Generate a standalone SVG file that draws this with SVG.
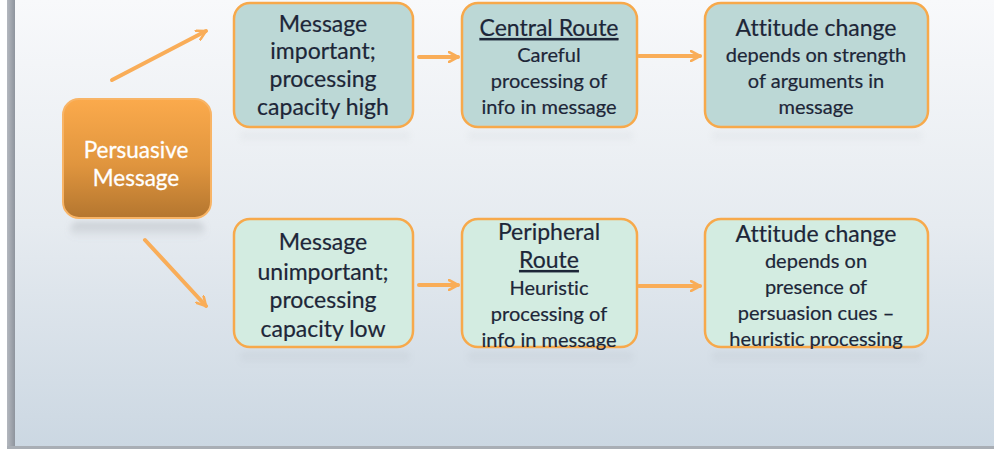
<svg xmlns="http://www.w3.org/2000/svg" width="994" height="449" viewBox="0 0 994 449">
<defs>
<linearGradient id="bg" x1="0" y1="0" x2="0" y2="1">
<stop offset="0" stop-color="#f8f9fb"/>
<stop offset="0.5" stop-color="#e6ebf0"/>
<stop offset="1" stop-color="#cbd7e2"/>
</linearGradient>
<linearGradient id="org" x1="0" y1="0" x2="0" y2="1">
<stop offset="0" stop-color="#fbaa4c"/>
<stop offset="0.55" stop-color="#e0953e"/>
<stop offset="1" stop-color="#b4762f"/>
</linearGradient>
<linearGradient id="bar" x1="0" y1="0" x2="1" y2="0">
<stop offset="0" stop-color="#b4b8bf"/>
<stop offset="1" stop-color="#8e949d"/>
</linearGradient>
<linearGradient id="refl" x1="0" y1="0" x2="0" y2="1">
<stop offset="0" stop-color="#8a8f96" stop-opacity="0.35"/>
<stop offset="1" stop-color="#8a8f96" stop-opacity="0"/>
</linearGradient>
<marker id="ah" viewBox="0 0 12 12" refX="10" refY="6" markerWidth="12" markerHeight="12" markerUnits="userSpaceOnUse" orient="auto">
<path d="M1,1 L10,6 L1,11" fill="none" stroke="#f9ad58" stroke-width="2.6" stroke-linecap="round" stroke-linejoin="round"/>
</marker>
<filter id="blur" x="-20%" y="-50%" width="140%" height="200%"><feGaussianBlur stdDeviation="3"/></filter>
</defs>
<style>
.box{stroke:#f7a94b;stroke-width:2.5}
.top{fill:#bcd8d6}
.bot{fill:#d3ece1}
.t{font-family:Lato,"Open Sans","Liberation Sans",sans-serif;fill:#1d2638;text-anchor:middle;stroke:#1d2638;stroke-width:0.2;font-variant-ligatures:none}
.big{font-size:23px}
.sm{font-size:20px}
.u{text-decoration:underline}
.conn{fill:none;stroke:#f9ad58;stroke-width:4;stroke-linecap:round}
</style>
<rect x="0" y="0" width="994" height="449" fill="url(#bg)"/>
<rect x="0" y="0" width="7" height="449" fill="#ffffff"/>
<rect x="7" y="0" width="8" height="447" fill="url(#bar)"/>
<rect x="7" y="446" width="987" height="3" fill="#a9aeb5"/>

<rect x="70" y="222" width="135" height="16" rx="8" fill="url(#refl)" filter="url(#blur)"/>
<rect x="240" y="132" width="170" height="12" fill="url(#refl)" opacity="0.3" filter="url(#blur)"/>
<rect x="468" y="132" width="165" height="12" fill="url(#refl)" opacity="0.3" filter="url(#blur)"/>
<rect x="712" y="132" width="210" height="12" fill="url(#refl)" opacity="0.3" filter="url(#blur)"/>
<rect x="240" y="352" width="170" height="14" fill="url(#refl)" opacity="0.35" filter="url(#blur)"/>
<rect x="468" y="352" width="165" height="14" fill="url(#refl)" opacity="0.35" filter="url(#blur)"/>
<rect x="712" y="352" width="210" height="14" fill="url(#refl)" opacity="0.35" filter="url(#blur)"/>

<g id="connectors">
<line class="conn" x1="112" y1="80" x2="206" y2="31" marker-end="url(#ah)"/>
<line class="conn" x1="145" y1="240" x2="206" y2="306" marker-end="url(#ah)"/>
<line class="conn" x1="419" y1="57" x2="458" y2="57" marker-end="url(#ah)"/>
<line class="conn" x1="639" y1="56" x2="700" y2="56" marker-end="url(#ah)"/>
<line class="conn" x1="419" y1="285" x2="458" y2="285" marker-end="url(#ah)"/>
<line class="conn" x1="639" y1="286" x2="700" y2="286" marker-end="url(#ah)"/>
</g>

<g id="persuasive">
<rect x="63" y="99" width="148" height="119" rx="16" fill="url(#org)" stroke="#f8b466" stroke-width="2"/>
<text class="t" x="136" y="158" font-size="22.5" style="fill:#ffffff;stroke:#ffffff;stroke-width:0.3">Persuasive</text>
<text class="t" x="136" y="186" font-size="22.5" style="fill:#ffffff;stroke:#ffffff;stroke-width:0.3">Message</text>
</g>

<g id="n1">
<rect class="box top" x="234" y="3" width="179" height="124" rx="16"/>
<text class="t big" x="323" y="32">Message</text>
<text class="t big" x="323" y="59">important;</text>
<text class="t big" x="323" y="87">processing</text>
<text class="t big" x="323" y="115">capacity high</text>
</g>

<g id="n2">
<rect class="box top" x="462" y="3" width="175" height="124" rx="16"/>
<text class="t big u" x="549" y="36">Central Route</text>
<text class="t sm" x="549" y="62">Careful</text>
<text class="t sm" x="549" y="88">processing of</text>
<text class="t sm" x="549" y="114">info in message</text>
</g>

<g id="n3">
<rect class="box top" x="705" y="3" width="223" height="124" rx="16"/>
<text class="t big" x="816" y="36">Attitude change</text>
<text class="t sm" x="816" y="62">depends on strength</text>
<text class="t sm" x="816" y="88">of arguments in</text>
<text class="t sm" x="816" y="114">message</text>
</g>

<g id="n4">
<rect class="box bot" x="234" y="219" width="179" height="128" rx="16"/>
<text class="t big" x="323" y="250">Message</text>
<text class="t big" x="323" y="280">unimportant;</text>
<text class="t big" x="323" y="308">processing</text>
<text class="t big" x="323" y="337">capacity low</text>
</g>

<g id="n5">
<rect class="box bot" x="462" y="219" width="175" height="128" rx="16"/>
<text class="t big" x="549" y="240">Peripheral</text>
<text class="t big u" x="549" y="268">Route</text>
<text class="t sm" x="549" y="295">Heuristic</text>
<text class="t sm" x="549" y="321">processing of</text>
<text class="t sm" x="549" y="347">info in message</text>
</g>

<g id="n6">
<rect class="box bot" x="705" y="219" width="223" height="128" rx="16"/>
<text class="t big" x="816" y="242">Attitude change</text>
<text class="t sm" x="816" y="268">depends on</text>
<text class="t sm" x="816" y="294">presence of</text>
<text class="t sm" x="816" y="320">persuasion cues –</text>
<text class="t sm" x="816" y="346">heuristic processing</text>
</g>
</svg>
